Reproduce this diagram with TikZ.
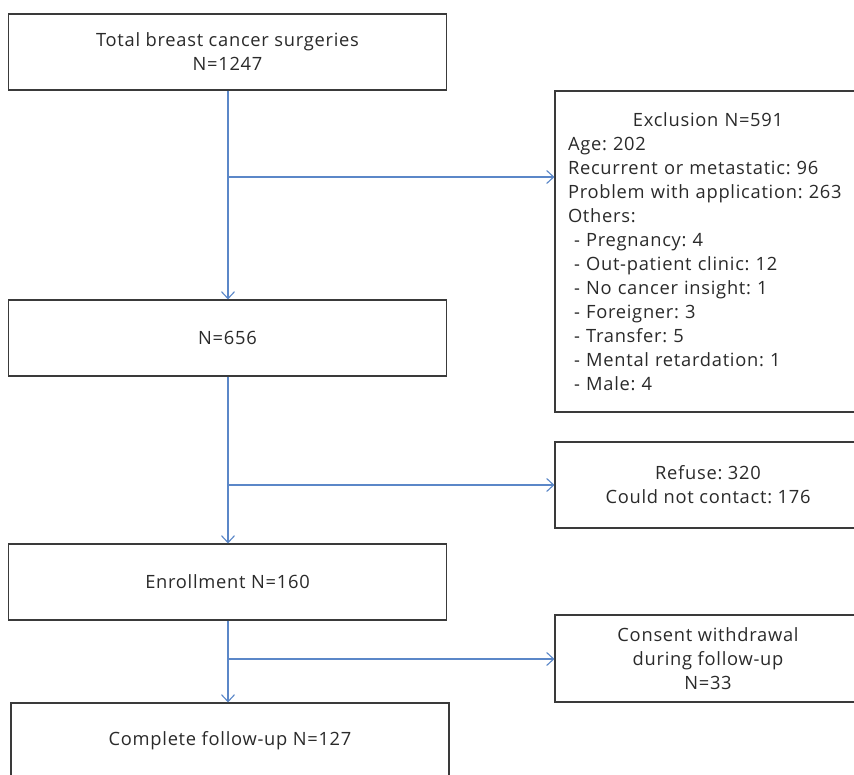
\documentclass[tikz,border=0pt]{standalone}
\usepackage{fontspec}
\setmainfont{Open Sans}[LetterSpace=4]
\frenchspacing
\usetikzlibrary{arrows.meta}
\definecolor{arrowblue}{HTML}{5B87C8}
\definecolor{boxline}{HTML}{3A3A3A}
\definecolor{txt}{HTML}{2A2A2A}
\begin{document}
\begin{tikzpicture}[x=1pt,y=-1pt,
  flowbox/.style={draw=boxline,line width=1.1pt,rectangle,inner sep=0pt,
    minimum width=438pt,minimum height=76pt,align=center,text=txt,
    font=\fontsize{18.3}{24}\selectfont},
  sidebox/.style={draw=boxline,line width=1.1pt,rectangle,inner sep=0pt,
    minimum width=306pt,align=center,text=txt,
    font=\fontsize{18.3}{24}\selectfont},
  arr/.style={draw=arrowblue,line width=1.1pt,-{Straight Barb[length=7pt,width=13pt]}}]
\useasboundingbox (0,0) rectangle (854,774);
\fill[white] (0,0) rectangle (854,774);

\node[flowbox] (total) at (227.5,52) {Total breast cancer surgeries\\N=1247};
\node[flowbox] (n656) at (227.5,338) {N=656};
\node[flowbox] (enroll) at (227.5,582) {Enrollment N=160};
\node[flowbox] (complete) at (230,741) {Complete follow-up N=127};

\node[sidebox,minimum height=321pt,text width=280pt,align=left,inner xsep=13pt] (excl) at (708,251.5)
 {\makebox[\linewidth][c]{Exclusion N=591}\\
  Age: 202\\
  Recurrent or metastatic: 96\\
  Problem with application: 263\\
  Others:\\
  \ - Pregnancy: 4\\
  \ - Out-patient clinic: 12\\
  \ - No cancer insight: 1\\
  \ - Foreigner: 3\\
  \ - Transfer: 5\\
  \ - Mental retardation: 1\\
  \ - Male: 4};
\node[sidebox,minimum height=86pt] (refuse) at (708,485) {Refuse: 320\\Could not contact: 176};
\node[sidebox,minimum height=87pt] (consent) at (708,658.5) {Consent withdrawal\\during follow-up\\N=33};

\coordinate (b1) at (228,177);
\coordinate (b2) at (228,485);
\coordinate (b3) at (228,659);

\draw[arr] (total.south -| b1) -- (n656.north -| b1);
\draw[arr] (b1) -- (b1 -| excl.west);
\draw[arr] (n656.south -| b2) -- (enroll.north -| b2);
\draw[arr] (b2) -- (refuse.west);
\draw[arr] (enroll.south -| b3) -- (complete.north -| b3);
\draw[arr] (b3) -- (b3 -| consent.west);
\end{tikzpicture}
\end{document}
